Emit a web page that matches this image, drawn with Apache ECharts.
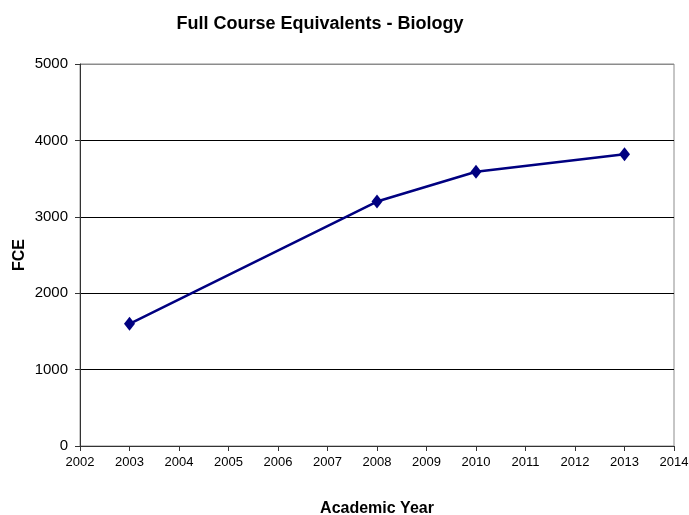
<!DOCTYPE html>
<html>
<head>
<meta charset="utf-8">
<script src="https://cdn.jsdelivr.net/npm/echarts@6/dist/echarts.min.js"></script>
<style>
  html, body { margin: 0; padding: 0; background: #fff; }
  #chart { width: 689px; height: 515px; }
</style>
</head>
<body>
<div id="chart"></div>
<script>
// data
var years = [2003, 2008, 2010, 2013];
var fce = [1600, 3200, 3590, 3820];
var xTicks = { min: 2002, max: 2014, step: 1 };
var yTicks = { min: 0, max: 5000, step: 1000 };

var font = '"Liberation Sans", Arial, sans-serif';
var chart = echarts.init(document.getElementById('chart'));

var points = years.map(function (y, i) { return [y, fce[i]]; });

chart.setOption({
    animation: false,
    title: {
        text: 'Full Course Equivalents - Biology',
        left: 315,
        textAlign: 'center',
        top: 10,
        textStyle: { fontFamily: font, fontSize: 18, fontWeight: 'bold', color: '#000' }
    },
    grid: {
        left: 80, right: 15, top: 64, bottom: 69,
        outerBoundsMode: 'none',
        containLabel: false,
        show: true,
        borderColor: '#8c8c8c',
        borderWidth: 1,
        backgroundColor: '#fff'
    },
    xAxis: {
        type: 'value',
        min: xTicks.min, max: xTicks.max, interval: xTicks.step,
        name: 'Academic Year',
        nameLocation: 'middle',
        nameGap: 55,
        nameMoveOverlap: false,
        nameTextStyle: { fontFamily: font, fontSize: 16, fontWeight: 'bold', color: '#000' },
        axisLine: { lineStyle: { color: '#333', width: 1 } },
        axisTick: { show: true, length: 5, lineStyle: { color: '#333' } },
        axisLabel: {
            fontFamily: font, fontSize: 13, color: '#000', margin: 10,
            formatter: function (v) { return String(v); }
        },
        splitLine: { show: false }
    },
    yAxis: {
        type: 'value',
        min: yTicks.min, max: yTicks.max, interval: yTicks.step,
        name: 'FCE',
        nameLocation: 'middle',
        nameGap: 52,
        nameMoveOverlap: false,
        nameRotate: 90,
        nameTextStyle: { fontFamily: font, fontSize: 16, fontWeight: 'bold', color: '#000' },
        axisLine: { show: true, lineStyle: { color: '#333', width: 1 } },
        axisTick: { show: true, length: 5, lineStyle: { color: '#333' } },
        axisLabel: {
            fontFamily: font, fontSize: 15, color: '#000', margin: 12,
            formatter: function (v) { return String(v); }
        },
        splitLine: {
            show: true,
            lineStyle: { color: ['#333', '#000', '#000', '#000', '#000', '#8c8c8c'], width: 1 }
        }
    },
    series: [{
        type: 'line',
        data: points,
        symbol: 'diamond',
        symbolSize: [11, 14],
        lineStyle: { color: '#000080', width: 2.5 },
        itemStyle: { color: '#000080' }
    }]
});
</script>
</body>
</html>
